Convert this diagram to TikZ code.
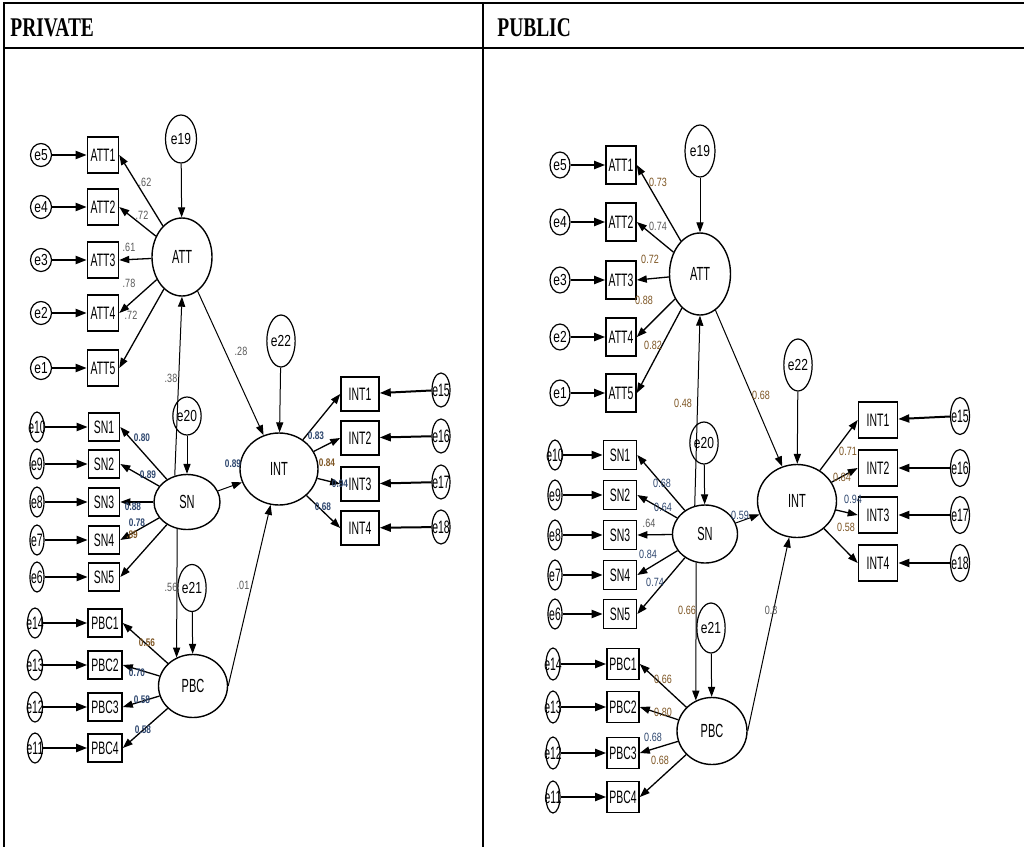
\documentclass[tikz,border=0pt]{standalone}
\usepackage{fontspec}
\usetikzlibrary{shapes.geometric,arrows.meta}
\newfontfamily\amos[FakeStretch=0.75]{Liberation Sans}
\newfontfamily\amosnarrow[FakeStretch=0.58]{Liberation Sans}
\newfontfamily\hdrfont[FakeStretch=0.72]{Liberation Serif}
\colorlet{coef gray}{black!65}
\definecolor{coef blue}{RGB}{45,70,110}
\definecolor{coef brown}{RGB}{125,85,35}
\tikzset{
  header/.style={anchor=west, inner sep=0pt, font=\hdrfont\bfseries\fontsize{13.5}{13.5}\selectfont},
  errvar/.style={ellipse, draw, line width=0.6pt, inner sep=0pt, font=\amos\fontsize{8}{8}\selectfont},
  narrow errvar/.style={errvar, font=\amosnarrow\fontsize{9}{9}\selectfont},
  indicator/.style={rectangle, draw, line width=0.8pt, inner sep=0pt, font=\amosnarrow\fontsize{9}{9}\selectfont},
  latent/.style={ellipse, draw, line width=0.7pt, inner sep=0pt, font=\amosnarrow\fontsize{9.5}{9.5}\selectfont}
  }
\tikzstyle{err edge} = [draw, line width=1pt, -{Triangle[length=5.5pt,width=4pt]}]
\tikzstyle{load edge} = [draw, line width=0.65pt, -{Triangle[length=5pt,width=3.6pt]}]
\tikzstyle{path edge} = [draw, line width=0.5pt, -{Triangle[length=5pt,width=3.6pt]}]
\tikzstyle{coef} = [inner sep=0pt, font=\amos\fontsize{6}{6}\selectfont]
\tikzstyle{coef bold} = [inner sep=0pt, font=\amos\bfseries\fontsize{5.5}{5.5}\selectfont]

\begin{document}
\begin{tikzpicture}[x=0.5pt,y=-0.5pt]
    \useasboundingbox (0,0) rectangle (1024,847);

    % the table
    \draw[line width=0.8pt] (4,847) -- (4,3) -- (1024,3);
    \draw[line width=0.8pt] (4,48) -- (1024,48);
    \draw[line width=0.8pt] (483,3) -- (483,847);
    \node[header] (hpriv) at (10,28) {PRIVATE};
    \node[header] (hpub) at (497,28) {PUBLIC};

    % ---------------- PRIVATE ----------------
    \node[latent, minimum width=30pt, minimum height=39pt] (L-att) at (182,257) {ATT};
    \node[latent, minimum width=33pt, minimum height=27.5pt] (L-sn) at (187,502) {SN};
    \node[latent, minimum width=34.5pt, minimum height=31.5pt] (L-pbc) at (193,686) {PBC};
    \node[latent, minimum width=39pt, minimum height=36pt] (L-int) at (279,469) {INT};

    % residuals of the latent variables
    \foreach \pos/\name/\w/\h in {{(181,139)/e19/15.5/24}, {(187,416)/e20/11.5/19}, {(192,588)/e21/12.5/23.5}, {(281,341)/e22/13.5/26}} {
      \node[errvar, minimum width=\w pt, minimum height=\h pt] (L-\name) at \pos {\name};
    }

    % the indicators
    \foreach \y/\i/\e in {155/1/5, 207/2/4, 260/3/3, 313/4/2, 368/5/1} {
      \node[indicator, minimum width=15.5pt, minimum height=18pt] (L-att\i) at (103,\y) {ATT\i};
      \node[errvar, minimum width=10.5pt, minimum height=11.5pt] (L-e\e) at (41,\y) {\makebox[0pt]{e\e}};
      \path[err edge] (L-e\e) -- (L-att\i);
      \path[load edge] (L-att) -- (L-att\i.east);
    }
    \foreach \y/\i/\e in {427/1/10, 464/2/9, 502/3/8, 540/4/7, 577/5/6} {
      \node[indicator, minimum width=15.5pt, minimum height=14pt] (L-sn\i) at (104,\y) {SN\i};
      \node[narrow errvar, minimum width=7pt, minimum height=15pt] (L-e\e) at (37,\y) {\makebox[0pt]{e\e}};
      \path[err edge] (L-e\e) -- (L-sn\i);
      \path[load edge] (L-sn) -- (L-sn\i.east);
    }
    \foreach \y/\i/\e in {623/1/14, 665/2/13, 707/3/12, 748/4/11} {
      \node[indicator, minimum width=17pt, minimum height=14pt] (L-pbc\i) at (105,\y) {PBC\i};
      \node[narrow errvar, minimum width=7.5pt, minimum height=15pt] (L-e\e) at (35,\y) {\makebox[0pt]{e\e}};
      \path[err edge] (L-e\e) -- (L-pbc\i);
      \path[load edge] (L-pbc) -- (L-pbc\i.east);
    }
    \foreach \yb/\ye/\i/\e in {394/390/1/15, 438/436/2/16, 484/482/3/17, 528/527/4/18} {
      \node[indicator, minimum width=19pt, minimum height=17pt] (L-int\i) at (360,\yb) {INT\i};
      \node[narrow errvar, minimum width=9pt, minimum height=17pt] (L-e\e) at (441,\ye) {\makebox[0pt]{e\e}};
      \path[err edge] (L-e\e) -- (L-int\i);
      \path[load edge] (L-int) -- (L-int\i.west);
    }

    % structural paths
    \foreach \source/\sink in {L-e19/L-att, L-e20/L-sn, L-e21/L-pbc, L-e22/L-int, L-att/L-int, L-sn/L-int, L-pbc.east/L-int, L-sn.115/L-att.south, L-sn.250/L-pbc.120} {
      \path[path edge] (\source) -- (\sink);
    }

    % estimates
    \foreach \pos/\val [count=\k] in {{(145,182)/.62}, {(142,215)/.72}, {(129,247)/.61}, {(129,283)/.78}, {(131,315)/.72}, {(241,351)/.28}, {(171,378)/.38}, {(171,587)/.56}, {(243,585)/.01}} {
      \node[coef, text=coef gray] (L-c\k) at \pos {\val};
    }
    \foreach \pos/\val/\col [count=\k] in {{(142,438)/0.80/coef blue}, {(148,475)/0.89/coef blue}, {(133,507)/0.88/coef blue}, {(137,523)/0.78/coef blue}, {(132,535)/.89/coef brown}, {(233,464)/0.89/coef blue}, {(147,643)/0.56/coef brown}, {(137,673)/0.70/coef blue}, {(142,700)/0.58/coef blue}, {(143,730)/0.58/coef blue}, {(316,436)/0.83/coef blue}, {(327,463)/0.84/coef brown}, {(340,484)/0.94/coef blue}, {(323,507)/0.68/coef blue}} {
      \node[coef bold, text=\col] (L-b\k) at \pos {\val};
    }

    % ---------------- PUBLIC ----------------
    \node[latent, minimum width=30.5pt, minimum height=41pt] (R-att) at (700,274) {ATT};
    \node[latent, minimum width=32.5pt, minimum height=29pt] (R-sn) at (705,534) {SN};
    \node[latent, minimum width=35pt, minimum height=33.5pt] (R-pbc) at (712,731) {PBC};
    \node[latent, minimum width=39.5pt, minimum height=36.5pt] (R-int) at (797,501) {INT};

    % residuals of the latent variables
    \foreach \pos/\name/\w/\h in {{(700,151)/e19/15/26}, {(704,443)/e20/10/21}, {(711,628)/e21/11/25}, {(798,365)/e22/13.5/26}} {
      \node[errvar, minimum width=\w pt, minimum height=\h pt] (R-\name) at \pos {\name};
    }

    % the indicators
    \foreach \y/\i/\e in {165/1/5, 222/2/4, 280/3/3, 337/4/2, 393/5/1} {
      \node[indicator, minimum width=15pt, minimum height=19pt] (R-att\i) at (621,\y) {ATT\i};
      \node[errvar, minimum width=10pt, minimum height=13pt] (R-e\e) at (560,\y) {\makebox[0pt]{e\e}};
      \path[err edge] (R-e\e) -- (R-att\i);
      \path[load edge] (R-att) -- (R-att\i.east);
    }
    \foreach \y/\i/\e in {455/1/10, 495/2/9, 535/3/8, 575/4/7, 614/5/6} {
      \node[indicator, minimum width=16.5pt, minimum height=14.5pt] (R-sn\i) at (620,\y) {SN\i};
      \node[narrow errvar, minimum width=7pt, minimum height=15pt] (R-e\e) at (555,\y) {\makebox[0pt]{e\e}};
      \path[err edge] (R-e\e) -- (R-sn\i);
      \path[load edge] (R-sn) -- (R-sn\i.east);
    }
    \foreach \y/\i/\e in {664/1/14, 707/2/13, 753/3/12, 797/4/11} {
      \node[indicator, minimum width=16pt, minimum height=15.5pt] (R-pbc\i) at (623,\y) {PBC\i};
      \node[narrow errvar, minimum width=7pt, minimum height=16pt] (R-e\e) at (553,\y) {\makebox[0pt]{e\e}};
      \path[err edge] (R-e\e) -- (R-pbc\i);
      \path[load edge] (R-pbc) -- (R-pbc\i.east);
    }
    \foreach \yb/\ye/\i/\e in {420/416/1/15, 468/468/2/16, 515/515/3/17, 563/563/4/18} {
      \node[indicator, minimum width=19.5pt, minimum height=18pt] (R-int\i) at (878,\yb) {INT\i};
      \node[narrow errvar, minimum width=9.5pt, minimum height=18.5pt] (R-e\e) at (960,\ye) {\makebox[0pt]{e\e}};
      \path[err edge] (R-e\e) -- (R-int\i);
      \path[load edge] (R-int) -- (R-int\i.west);
    }

    % structural paths
    \foreach \source/\sink in {R-e19/R-att, R-e20/R-sn, R-e21/R-pbc, R-e22/R-int, R-att/R-int, R-sn/R-int, R-pbc.east/R-int, R-sn.110/R-att.south, R-sn.253/R-pbc.118} {
      \path[path edge] (\source) -- (\sink);
    }

    % estimates
    \foreach \pos/\val/\col [count=\k] in {{(658,182)/0.73/coef brown}, {(658,226)/0.74/coef gray}, {(650,259)/0.72/coef brown}, {(644,300)/0.88/coef brown}, {(653,345)/0.82/coef brown}, {(683,403)/0.48/coef brown}, {(761,395)/0.68/coef brown}, {(662,483)/0.68/coef blue}, {(663,507)/0.64/coef blue}, {(649,523)/.64/coef gray}, {(648,554)/0.84/coef blue}, {(655,582)/0.74/coef blue}, {(740,515)/0.59/coef blue}, {(687,610)/0.66/coef brown}, {(771,610)/0.8/coef gray}, {(663,679)/0.66/coef brown}, {(663,712)/0.80/coef brown}, {(653,737)/0.68/coef blue}, {(660,760)/0.68/coef brown}, {(848,451)/0.71/coef brown}, {(842,477)/0.84/coef brown}, {(853,499)/0.94/coef blue}, {(846,527)/0.58/coef brown}} {
      \node[coef, text=\col] (R-c\k) at \pos {\val};
    }

\end{tikzpicture}
\end{document}
